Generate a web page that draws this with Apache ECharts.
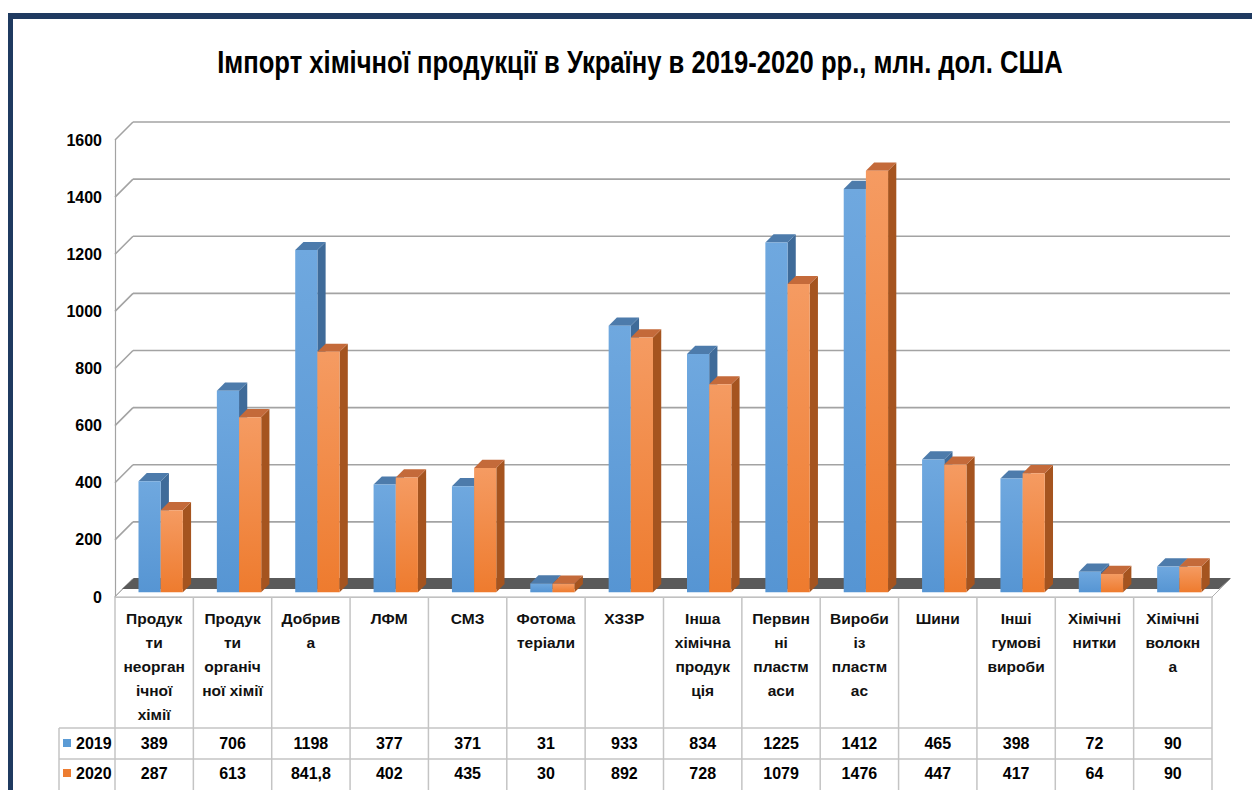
<!DOCTYPE html>
<html>
<head>
<meta charset="utf-8">
<script src="https://cdn.jsdelivr.net/npm/echarts@6/dist/echarts.min.js"></script>
<style>
html,body{margin:0;padding:0;background:#fff;}
#chart{width:1252px;height:790px;}
</style>
</head>
<body>
<div id="chart"></div>
<script>
const titleText = 'Імпорт хімічної продукції в Україну в 2019-2020 рр., млн. дол. США';
const categories = [
  'Продук\nти\nнеорган\nічної\nхімії',
  'Продук\nти\nорганіч\nної хімії',
  'Добрив\nа',
  'ЛФМ',
  'СМЗ',
  'Фотома\nтеріали',
  'ХЗЗР',
  'Інша\nхімічна\nпродук\nція',
  'Первин\nні\nпластм\nаси',
  'Вироби\nіз\nпластм\nас',
  'Шини',
  'Інші\nгумові\nвироби',
  'Хімічні\nнитки',
  'Хімічні\nволокн\nа'
];
const seriesNames = ['2019', '2020'];
const values2019 = [389, 706, 1198, 377, 371, 31, 933, 834, 1225, 1412, 465, 398, 72, 90];
const values2020 = [287, 613, 841.8, 402, 435, 30, 892, 728, 1079, 1476, 447, 417, 64, 90];
const yTicks = [0, 200, 400, 600, 800, 1000, 1200, 1400, 1600];

const FONT = '"Liberation Sans", Arial, sans-serif';
const BACK = 18;          // depth of the back wall (px)
const GRID_COL = '#a3a3a3';
const TABLE_COL = '#c4c4c4';

const palette = [
  { front: ['#6fa8df', '#5695d3'], side: '#3f6b99', top: '#4d7bab', legend: '#5b9bd5' },
  { front: ['#f59b62', '#ee7b2e'], side: '#a5541f', top: '#c46a3a', legend: '#ed7d31' }
];

function fmt(v) { return String(v).replace('.', ','); }

const chart = echarts.init(document.getElementById('chart'), null, { renderer: 'svg' });

function backGrid(params, api) {
  const cs = params.coordSys;
  const y = api.coord([0, api.value(1)])[1];
  const st = { stroke: GRID_COL, lineWidth: 1.6, fill: null };
  return {
    type: 'group',
    children: [
      { type: 'line', shape: { x1: cs.x, y1: y, x2: cs.x + BACK, y2: y - BACK }, style: st },
      { type: 'line', shape: { x1: cs.x + BACK, y1: y - BACK, x2: cs.x + cs.width + BACK, y2: y - BACK }, style: st }
    ]
  };
}

function floor(params, api) {
  const cs = params.coordSys;
  const y0 = api.coord([0, 0])[1];
  const L = cs.x, R = cs.x + cs.width;
  return {
    type: 'group',
    children: [
      { type: 'polygon', shape: { points: [[L, y0], [R, y0], [R + BACK, y0 - BACK], [L + BACK, y0 - BACK]] },
        style: { fill: '#ffffff', stroke: '#b0b0b0', lineWidth: 1 } },
      { type: 'polygon', shape: { points: [[L + 7, y0 - 8], [R + 7, y0 - 8], [R + BACK + 1, y0 - BACK - 1], [L + BACK + 1, y0 - BACK - 1]] },
        style: { fill: '#5a5a5a' } }
    ]
  };
}

function barRenderer(idx) {
  const c = palette[idx];
  return function (params, api) {
    const i = api.value(0), v = api.value(1);
    const top = api.coord([i, v]);
    const base = api.coord([i, 0]);
    const band = api.size([1, 0])[0];
    const w = band * 0.283;
    const dx = band * 0.083, dy = band * 0.06;
    const dep = band * 0.105;
    const x0 = (idx === 0 ? top[0] - w : top[0]) + dx;
    const yt = top[1] - dy, yb = base[1] - dy;
    return {
      type: 'group',
      children: [
        { type: 'polygon', shape: { points: [[x0 + w, yt], [x0 + w + dep, yt - dep], [x0 + w + dep, yb - dep], [x0 + w, yb]] },
          style: { fill: c.side } },
        { type: 'polygon', shape: { points: [[x0, yt], [x0 + dep, yt - dep], [x0 + w + dep, yt - dep], [x0 + w, yt]] },
          style: { fill: c.top } },
        { type: 'rect', shape: { x: x0, y: yt, width: w, height: Math.max(0, yb - yt) },
          style: { fill: new echarts.graphic.LinearGradient(0, 0, 0, 1, [
            { offset: 0, color: c.front[0] }, { offset: 1, color: c.front[1] }]) } }
      ]
    };
  };
}

function tableCells(params, api) {
  const i = api.value(0);
  const p = api.coord([i, 0]);
  const band = api.size([1, 0])[0];
  const cx = p[0], y0 = p[1];
  const H = api.getHeight();
  const left = cx - band / 2, right = cx + band / 2;
  const r1 = y0 + 131, r2 = y0 + 162;
  const st = { stroke: TABLE_COL, lineWidth: 1.5, fill: null };
  const children = [
    { type: 'line', shape: { x1: left, y1: y0, x2: left, y2: H }, style: st },
    { type: 'line', shape: { x1: left, y1: r1, x2: right, y2: r1 }, style: st },
    { type: 'line', shape: { x1: left, y1: r2, x2: right, y2: r2 }, style: st },
    { type: 'text', x: cx, y: y0 + 146, style: { text: fmt(api.value(1)), fill: '#000',
        font: 'bold 16px ' + FONT, textAlign: 'center', textVerticalAlign: 'middle' } },
    { type: 'text', x: cx, y: y0 + 176, style: { text: fmt(api.value(2)), fill: '#000',
        font: 'bold 16px ' + FONT, textAlign: 'center', textVerticalAlign: 'middle' } }
  ];
  if (i === categories.length - 1) {
    children.push({ type: 'line', shape: { x1: right, y1: y0, x2: right, y2: H }, style: st });
  }
  if (i === 0) {
    const lx = left - 56;
    children.push({ type: 'line', shape: { x1: lx, y1: r1, x2: left, y2: r1 }, style: st });
    children.push({ type: 'line', shape: { x1: lx, y1: r2, x2: left, y2: r2 }, style: st });
    children.push({ type: 'line', shape: { x1: lx, y1: r1, x2: lx, y2: H }, style: st });
  }
  return { type: 'group', children: children };
}

const option = {
  backgroundColor: '#ffffff',
  animation: false,
  legend: {
    orient: 'vertical',
    left: 63,
    top: 735,
    padding: 0,
    itemGap: 14,
    itemWidth: 8,
    itemHeight: 8,
    icon: 'rect',
    selectedMode: false,
    data: seriesNames,
    textStyle: { fontFamily: FONT, fontWeight: 'bold', fontSize: 16, lineHeight: 16, color: '#000' }
  },
  graphic: [
    { type: 'rect', shape: { x: 8, y: 13, width: 1244, height: 6 }, style: { fill: '#1f3a60' }, z: 100 },
    { type: 'rect', shape: { x: 8, y: 13, width: 5, height: 777 }, style: { fill: '#1f3a60' }, z: 100 },
    { type: 'text', x: 640, y: 62, scaleX: 0.8, originX: 0, originY: 0,
      style: { text: titleText, fill: '#000', font: 'bold 32px "Liberation Sans", Arial, sans-serif',
        textAlign: 'center', textVerticalAlign: 'middle' }, z: 100 }
  ],
  grid: { left: 115, right: 40, top: 140, bottom: 193 },
  xAxis: {
    type: 'category',
    data: categories,
    axisTick: { show: false },
    axisLine: { show: true, lineStyle: { color: TABLE_COL, width: 1.5 } },
    axisLabel: { interval: 0, fontFamily: FONT, fontWeight: 'bold', fontSize: 15.5, lineHeight: 24, margin: 9, color: '#111' }
  },
  yAxis: {
    type: 'value',
    min: 0, max: 1600, interval: 200,
    axisLine: { show: true, lineStyle: { color: GRID_COL, width: 1.2 } },
    axisTick: { show: false },
    splitLine: { show: false },
    axisLabel: { fontFamily: FONT, fontWeight: 'bold', fontSize: 16, color: '#000', margin: 13,
      formatter: function (v) { return String(v); } }
  },
  series: [
    { type: 'custom', name: 'backgrid', renderItem: backGrid, data: yTicks.map(v => [0, v]), z: 1, silent: true },
    { type: 'custom', name: 'floor', renderItem: floor, data: [[0, 0]], z: 2, silent: true },
    { type: 'custom', name: seriesNames[0], renderItem: barRenderer(0), itemStyle: { color: palette[0].legend },
      data: values2019.map((v, i) => [i, v]), z: 3 },
    { type: 'custom', name: seriesNames[1], renderItem: barRenderer(1), itemStyle: { color: palette[1].legend },
      data: values2020.map((v, i) => [i, v]), z: 4 },
    { type: 'custom', name: 'table', renderItem: tableCells,
      data: categories.map((c, i) => [i, values2019[i], values2020[i]]), z: 5, silent: true }
  ]
};
chart.setOption(option);
</script>
</body>
</html>
